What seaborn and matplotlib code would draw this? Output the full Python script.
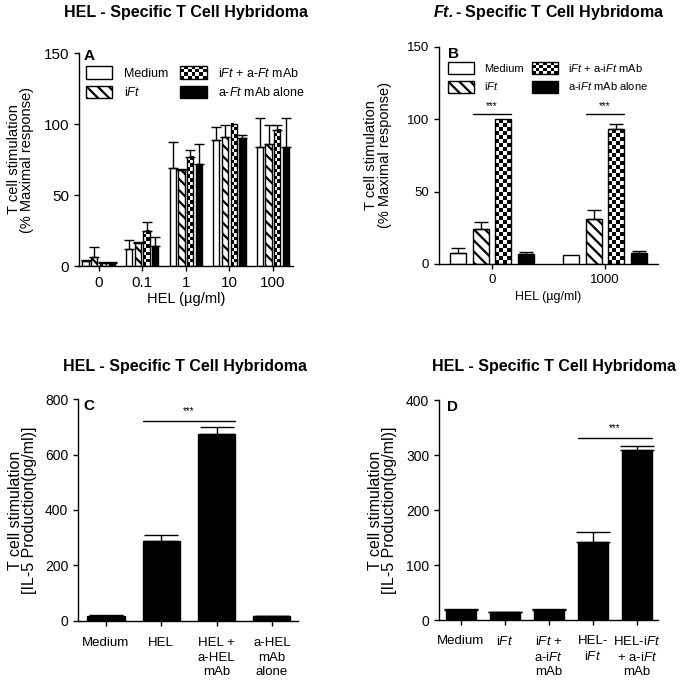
import numpy as np
import pandas as pd
import seaborn as sns
import matplotlib.pyplot as plt
from matplotlib.patches import Rectangle
from matplotlib.legend_handler import HandlerBase

sns.set_style("ticks")
plt.rcParams["font.family"] = ["Liberation Sans", "DejaVu Sans"]
plt.rcParams["mathtext.fontset"] = "custom"
plt.rcParams["mathtext.rm"] = "Liberation Sans"
plt.rcParams["mathtext.it"] = "Liberation Sans:italic"
plt.rcParams["mathtext.bf"] = "Liberation Sans:italic:bold"
plt.rcParams["hatch.linewidth"] = 1.6
plt.rcParams["axes.linewidth"] = 1.0
plt.rcParams["axes.edgecolor"] = "black"
for key in ["text.color", "axes.labelcolor", "xtick.color", "ytick.color"]:
    plt.rcParams[key] = "black"

# ---- panel A: HEL-specific hybridoma, % maximal response
hel_doses = ["0", "0.1", "1", "10", "100"]
a_groups = ["Medium", "iFt", "iFt + a-Ft mAb", "a-Ft mAb alone"]
a_medium = [3.3, 12, 69, 89, 84]
a_medium_err = [0.7, 6, 18, 9, 20]
a_ift = [6.6, 16.4, 67.6, 91, 86]
a_ift_err = [6.5, 0.5, 0.5, 8, 13]
a_combo = [2.3, 25, 77, 100, 96]
a_combo_err = [0.3, 6, 5, 0, 3.5]
a_mab = [2.3, 14, 72, 90, 84]
a_mab_err = [0.3, 6.6, 14, 2, 20]

# ---- panel B: Ft-specific hybridoma
b_doses = ["0", "1000"]
b_groups = ["Medium", "iFt", "iFt + a-iFt mAb", "a-iFt mAb alone"]
b_medium = [7.8, 6.4]
b_medium_err = [3.2, 0]
b_ift = [24.4, 31]
b_ift_err = [4.6, 6]
b_combo = [100, 93]
b_combo_err = [0, 4]
b_mab = [7, 7.6]
b_mab_err = [1, 1.4]
b_sig_y = 103.6

# ---- panel C: IL-5, HEL
c_labels = ["Medium", "HEL", "HEL +\na-HEL\nmAb", "a-HEL\nmAb\nalone"]
c_il5 = [19, 289, 673, 18]
c_il5_err = [2.5, 21, 27, 0]
c_sig_y = 721

# ---- panel D: IL-5, HEL-iFt
d_labels = ["Medium", r"i$\it{Ft}$", "i$\\it{Ft}$ +\na-i$\\it{Ft}$\nmAb",
            "HEL-\ni$\\it{Ft}$", "HEL-i$\\it{Ft}$\n+ a-i$\\it{Ft}$\nmAb"]
d_il5 = [18, 14, 18, 141, 309]
d_il5_err = [1.4, 1, 2, 19, 7]
d_sig_y = 331.5

title_hel = "HEL - Specific T Cell Hybridoma"
ylab_pct = "T cell stimulation\n(% Maximal response)"
ylab_il5 = "T cell stimulation\n[IL-5 Production(pg/ml)]"


class CheckerPatch(Rectangle):
    pass


class CheckerHandler(HandlerBase):
    def create_artists(self, legend, orig_handle, xdescent, ydescent,
                       width, height, fontsize, trans):
        arts = [Rectangle((-xdescent, -ydescent), width, height, facecolor="white",
                          edgecolor="black", lw=1, transform=trans)]
        ncol, nrow = 7, 4
        cw, ch = width / ncol, height / nrow
        for i in range(nrow):
            for j in range(ncol):
                if (i + j) % 2 == 0:
                    arts.append(Rectangle((-xdescent + j * cw, -ydescent + i * ch), cw, ch,
                                          facecolor="black", lw=0, transform=trans))
        return arts


def checker_fill(ax, bar, sq=4.0):
    x0, y0 = bar.get_x(), bar.get_y()
    w, h = bar.get_width(), bar.get_height()
    (px0, py0), (px1, py1) = ax.transData.transform([(x0, y0), (x0 + w, y0 + h)])
    ncol = max(1, int(round((px1 - px0) / sq)))
    nrow = max(1, int(round((py1 - py0) / sq)))
    grid = np.add.outer(np.arange(nrow), np.arange(ncol)) % 2
    ax.imshow(grid, extent=(x0, x0 + w, y0, y0 + h), origin="lower", cmap="gray",
              vmin=0, vmax=1, interpolation="nearest", aspect="auto",
              zorder=bar.get_zorder() - 0.01, clip_path=bar)
    bar.set_facecolor("none")


def style_axes(ax, xlim, ylim, yticks, labelsize):
    sns.despine(ax=ax)
    ax.set_xlim(*xlim)
    ax.set_ylim(*ylim)
    ax.set_yticks(yticks)
    ax.tick_params(length=3.5, width=1, labelsize=labelsize, color="black")
    ax.set_xlabel("")


def grouped_panel(ax, doses, groups, values, errs, gap, xlim, sq, capsize, tick_fs):
    rows = []
    for g, vals in zip(groups, values):
        for d, v in zip(doses, vals):
            rows.append({"dose": d, "group": g, "value": v})
    df = pd.DataFrame(rows)
    sns.barplot(data=df, x="dose", y="value", hue="group", order=doses, hue_order=groups,
                palette=["white", "white", "white", "black"], width=0.8, gap=gap,
                edgecolor="black", linewidth=1, errorbar=None, legend=False, ax=ax)
    style_axes(ax, xlim, (0, 150), [0, 50, 100, 150], tick_fs)
    for bar in ax.containers[1]:
        bar.set_hatch("\\\\\\")
    for bar in list(ax.containers[2]):
        checker_fill(ax, bar, sq)
    ax.set_xlim(*xlim)
    ax.set_ylim(0, 150)
    for cont, err in zip(ax.containers, errs):
        xs = [b.get_x() + b.get_width() / 2 for b in cont]
        ys = [b.get_height() for b in cont]
        keep = [i for i, e in enumerate(err) if e > 0]
        ax.errorbar([xs[i] for i in keep], [ys[i] for i in keep],
                    yerr=[[0] * len(keep), [err[i] for i in keep]], fmt="none",
                    ecolor="black", elinewidth=1, capsize=capsize, capthick=1)


def add_legend(ax, labels, fs, anchor, hlen, hheight, colsp, lsp):
    handles = [Rectangle((0, 0), 1, 1, facecolor="white", edgecolor="black", lw=1),
               Rectangle((0, 0), 1, 1, facecolor="white", edgecolor="black", lw=1,
                         hatch="\\\\\\"),
               CheckerPatch((0, 0), 1, 1),
               Rectangle((0, 0), 1, 1, facecolor="black", edgecolor="black", lw=1)]
    ax.legend(handles, labels, ncol=2, loc="upper left", bbox_to_anchor=anchor,
              frameon=False, fontsize=fs, handlelength=hlen, handleheight=hheight,
              handletextpad=0.9, columnspacing=colsp, labelspacing=lsp, borderpad=0,
              borderaxespad=0, handler_map={CheckerPatch: CheckerHandler()})


def sig_bar(ax, x0, x1, y, dy):
    ax.plot([x0, x1], [y, y], color="black", lw=1)
    ax.text((x0 + x1) / 2, y + dy, "***", ha="center", va="bottom", fontsize=7)


fig = plt.figure(figsize=(6.87, 6.83), dpi=100)
ax_a = fig.add_axes([0.115, 0.6105, 0.3115, 0.3119])
ax_b = fig.add_axes([0.639, 0.6135, 0.3188, 0.3177])
ax_c = fig.add_axes([0.1135, 0.0908, 0.3202, 0.325])
ax_d = fig.add_axes([0.639, 0.0922, 0.3188, 0.3221])

# panel A
grouped_panel(ax_a, hel_doses, a_groups, [a_medium, a_ift, a_combo, a_mab],
              [a_medium_err, a_ift_err, a_combo_err, a_mab_err], 0.28, (-0.45, 4.46),
              3.6, 3.5, 11)
add_legend(ax_a, ["Medium", r"i$\it{Ft}$", r"i$\it{Ft}$ + a-$\it{Ft}$ mAb",
                  r"a-$\it{Ft}$ mAb alone"], 9, (0.033, 0.939), 2.1, 1.2, 1.0, 0.48)
ax_a.set_ylabel(ylab_pct, fontsize=10.5, linespacing=0.95)
ax_a.yaxis.set_label_coords(-0.21, 0.5)
ax_a.set_xlabel("HEL (µg/ml)", fontsize=10.5)
ax_a.xaxis.set_label_coords(0.5, -0.122)
ax_a.text(0.02, 1.02, "A", transform=ax_a.transAxes, fontsize=11, fontweight="bold",
          va="top", ha="left")

# panel B
grouped_panel(ax_b, b_doses, b_groups, [b_medium, b_ift, b_combo, b_mab],
              [b_medium_err, b_ift_err, b_combo_err, b_mab_err], 0.3, (-0.469, 1.469),
              4.0, 5, 9.5)
add_legend(ax_b, ["Medium", r"i$\it{Ft}$", r"i$\it{Ft}$ + a-i$\it{Ft}$ mAb",
                  r"a-i$\it{Ft}$ mAb alone"], 8, (0.041, 0.931), 2.34, 1.35, 0.75, 0.54)
for k in range(len(b_doses)):
    left = ax_b.containers[1][k]
    right = ax_b.containers[2][k]
    sig_bar(ax_b, left.get_x(), right.get_x() + right.get_width(), b_sig_y, 2)
ax_b.set_ylabel(ylab_pct, fontsize=10.5, linespacing=0.95)
ax_b.yaxis.set_label_coords(-0.215, 0.5)
ax_b.set_xlabel("HEL (µg/ml)", fontsize=9)
ax_b.xaxis.set_label_coords(0.5, -0.124)
ax_b.text(0.04, 1.0, "B", transform=ax_b.transAxes, fontsize=11, fontweight="bold",
          va="top", ha="left")

# panel C
sns.barplot(x=c_labels, y=c_il5, color="black", width=0.67, edgecolor="black",
            linewidth=1, errorbar=None, ax=ax_c)
style_axes(ax_c, (-0.506, 3.47), (0, 800), [0, 200, 400, 600, 800], 10)
ax_c.tick_params(axis="x", labelsize=9.5, pad=8)
for lab in ax_c.get_xticklabels():
    lab.set_linespacing(1.3)
bars = ax_c.containers[0]
ax_c.errorbar([b.get_x() + b.get_width() / 2 for b in bars], c_il5,
              yerr=[[0] * len(c_il5), c_il5_err], fmt="none", ecolor="black",
              elinewidth=1, capsize=12, capthick=1)
sig_bar(ax_c, bars[1].get_x(), bars[2].get_x() + bars[2].get_width(), c_sig_y, 18)
ax_c.set_ylabel(ylab_il5, fontsize=11.5, linespacing=0.95)
ax_c.yaxis.set_label_coords(-0.186, 0.5)
ax_c.text(0.023, 1.0, "C", transform=ax_c.transAxes, fontsize=11, fontweight="bold",
          va="top", ha="left")

# panel D
sns.barplot(x=list(range(len(d_il5))), y=d_il5, color="black", width=0.68,
            edgecolor="black", linewidth=1, errorbar=None, ax=ax_d)
style_axes(ax_d, (-0.5, 4.48), (0, 400), [0, 100, 200, 300, 400], 10)
ax_d.set_xticks(range(len(d_labels)))
ax_d.set_xticklabels(d_labels)
ax_d.tick_params(axis="x", labelsize=9.5, pad=7)
for lab in ax_d.get_xticklabels():
    lab.set_linespacing(1.3)
bars = ax_d.containers[0]
ax_d.errorbar([b.get_x() + b.get_width() / 2 for b in bars], d_il5,
              yerr=[[0] * len(d_il5), d_il5_err], fmt="none", ecolor="black",
              elinewidth=1, capsize=12, capthick=1)
sig_bar(ax_d, bars[3].get_x(), bars[4].get_x() + bars[4].get_width(), d_sig_y, 9)
ax_d.set_ylabel(ylab_il5, fontsize=11.5, linespacing=0.95)
ax_d.yaxis.set_label_coords(-0.19, 0.5)
ax_d.text(0.037, 1.0, "D", transform=ax_d.transAxes, fontsize=11, fontweight="bold",
          va="top", ha="left")

# titles
fig.text(186 / 687, 1 - 12 / 683, title_hel, ha="center", va="center",
         fontsize=11.5, fontweight="bold")
fig.text(549 / 687, 1 - 12 / 683, r"$\mathbf{Ft.}$- Specific T Cell Hybridoma",
         ha="center", va="center", fontsize=11.5, fontweight="bold")
fig.text(185 / 687, 1 - 367 / 683, title_hel, ha="center", va="center",
         fontsize=11.5, fontweight="bold")
fig.text(554 / 687, 1 - 367 / 683, title_hel, ha="center", va="center",
         fontsize=11.5, fontweight="bold")

fig.savefig("out.png", dpi=100)
